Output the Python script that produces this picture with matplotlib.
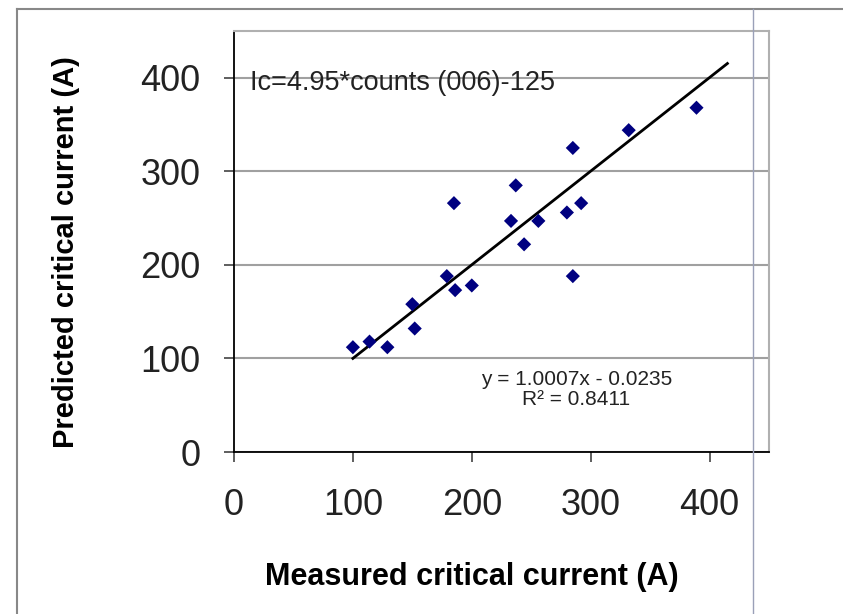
#!/usr/bin/env python3
"""Predicted vs measured critical current, with linear trendline."""
import matplotlib
matplotlib.use("Agg")
import matplotlib.pyplot as plt
import numpy as np
from matplotlib.lines import Line2D

plt.rcParams["font.family"] = ["Liberation Sans", "DejaVu Sans"]

# data (A)
measured = [389, 332, 285, 237, 185, 292, 280, 233, 256, 244,
            285, 179, 186, 200, 150, 152, 100, 114, 129]
predicted = [368, 344, 325, 285, 266, 266, 256, 247, 247, 222,
             188, 188, 173, 178, 158, 132, 112, 118, 112]

slope = 1.0007
intercept = -0.0235
trend_end = 415
ticks = [0, 100, 200, 300, 400]

W, H = 843, 614
fig = plt.figure(figsize=(W / 100, H / 100), dpi=100)
ax = fig.add_axes([234 / W, 1 - 452 / H, (769 - 234) / W, (452 - 31) / H])

ax.set_xlim(0, 450)
ax.set_ylim(0, 450)
ax.set_xticks(ticks)
ax.set_yticks(ticks)
ax.yaxis.grid(True, color="#a0a0a0", lw=1.5)
ax.set_axisbelow(True)

x_line = np.array([min(measured), trend_end])
ax.plot(x_line, slope * x_line + intercept, color="black", lw=2.0, zorder=2)
ax.scatter(measured, predicted, marker="D", s=52, color="#000080",
           edgecolors="none", zorder=3)

for side in ("top", "right"):
    ax.spines[side].set_color("#b0b0b0")
    ax.spines[side].set_linewidth(1.5)
for side in ("left", "bottom"):
    ax.spines[side].set_color("black")
    ax.spines[side].set_linewidth(1.3)

ax.tick_params(axis="both", direction="out", length=7, width=1.1,
               labelsize=26, labelcolor="#222222", color="#333333")
ax.tick_params(axis="y", pad=17)
ax.tick_params(axis="x", pad=19)

ax.text(13.5, 394, "Ic=4.95*counts (006)-125", fontsize=19.5,
        color="#222222", ha="left", va="center")
ax.text(288, 67, f"y = {slope:.4f}x - {abs(intercept):.4f}\nR\u00b2 = 0.8411",
        fontsize=15, color="#222222", ha="center", va="center",
        linespacing=1.1)

fig.text(472 / W, 1 - 577 / H, "Measured critical current (A)",
         fontsize=22, fontweight="bold", ha="center", va="center")
fig.text(66 / W, 1 - 252 / H, "Predicted critical current (A)",
         fontsize=21, fontweight="bold", ha="center", va="center",
         rotation=90)

# outer frame of the original figure
frame_top = 1 - 9 / H
fig.add_artist(Line2D([17 / W, 17 / W], [0, frame_top], color="#888888", lw=1.5))
fig.add_artist(Line2D([17 / W, 1], [frame_top, frame_top], color="#888888", lw=1.5))
fig.add_artist(Line2D([753 / W, 753 / W], [0, frame_top], color="#9aa0b8", lw=1.0))

fig.savefig("out.png", dpi=100)
